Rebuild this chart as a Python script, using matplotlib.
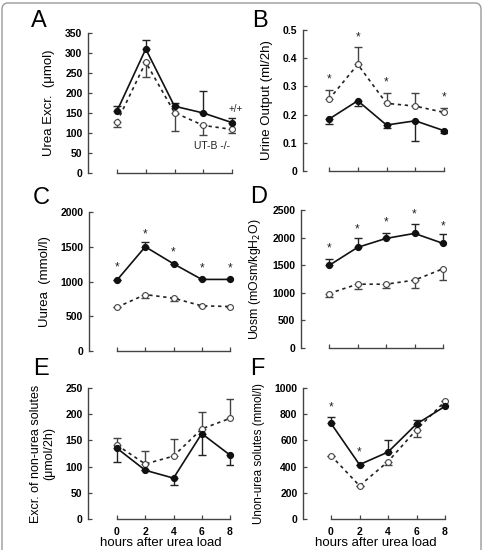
import matplotlib.pyplot as plt
from matplotlib.patches import FancyBboxPatch

plt.rcParams['font.family'] = ['Liberation Sans', 'DejaVu Sans']

hours = [0, 2, 4, 6, 8]

# A - urea excretion (umol)
a_wt = [155, 310, 167, 150, 126]
a_wt_err = [12, 23, 9, 56, 11]
a_ko = [128, 277, 151, 119, 109]
a_ko_err = [12, 37, 46, 24, 8]

# B - urine output (ml/2h)
b_wt = [0.184, 0.249, 0.163, 0.178, 0.143]
b_wt_err = [0.017, 0.019, 0.012, 0.071, 0.009]
b_ko = [0.254, 0.378, 0.240, 0.230, 0.208]
b_ko_err = [0.033, 0.063, 0.035, 0.045, 0.017]
b_star = [0.326, 0.473, 0.313, None, 0.261]

# C - urine urea (mmol/l)
c_wt = [1020, 1500, 1255, 1030, 1030]
c_wt_err = [0, 62, 0, 0, 0]
c_ko = [630, 812, 760, 650, 640]
c_ko_err = [0, 52, 34, 0, 0]
c_star = [1200, 1673, 1423, 1192, 1192]

# D - urine osmolality
d_wt = [1495, 1822, 1985, 2076, 1895]
d_wt_err = [121, 163, 103, 164, 163]
d_ko = [987, 1156, 1156, 1229, 1435]
d_ko_err = [61, 91, 66, 133, 206]
d_star = [1804, 2149, 2270, 2421, 2210]

# E - excretion of non-urea solutes
e_wt = [135, 93, 78, 163, 122]
e_wt_err = [27, 0, 14, 41, 19]
e_ko = [141, 105, 120, 172, 192]
e_ko_err = [13, 25, 33, 32, 37]

# F - non-urea solutes (mmol/l)
f_wt = [730, 415, 511, 725, 860]
f_wt_err = [46, 0, 95, 31, 0]
f_ko = [484, 254, 438, 682, 898]
f_ko_err = [0, 0, 23, 59, 0]
f_star = [852, 511, None, None, None]

W, H = 484, 550
fig = plt.figure(figsize=(W / 100, H / 100), dpi=100)

# rounded frame round the whole figure
frame = FancyBboxPatch((2 / W, -0.05), 479 / W, 1.05 - 3 / H,
                       boxstyle='round,pad=0,rounding_size=0.012',
                       transform=fig.transFigure, fill=False,
                       edgecolor='#9a9a9a', linewidth=1.0)
fig.patches.append(frame)


def make_ax(left, t0, t8, top, bottom, ymax, step, ylabel, letter, lx, ly,
            xlabels=False, ysize=9.5):
    scale = (t8 - t0) / 8.0
    xmin = -(t0 - left) / scale
    xmax = 8 + 3 / scale
    width = (xmax - xmin) * scale
    ax = fig.add_axes([left / W, 1 - bottom / H, width / W, (bottom - top) / H])
    ax.set_xlim(xmin, xmax)
    ax.set_ylim(0, ymax)
    for s in ['top', 'right']:
        ax.spines[s].set_visible(False)
    ax.spines['bottom'].set_bounds(0, 8)
    for s in ['left', 'bottom']:
        ax.spines[s].set_color('#444444')
        ax.spines[s].set_linewidth(1.0)
    ax.set_yticks([i * step for i in range(int(round(ymax / step)) + 1)])
    ax.set_xticks(hours)
    ax.tick_params(direction='in', length=3, width=0.9, color='#444444',
                   labelsize=7.5, pad=4)
    ax.tick_params(axis='x', pad=6)
    ax.yaxis.set_major_formatter(plt.FuncFormatter(
        lambda v, p: ('%g' % round(v, 2))))
    for t in ax.get_yticklabels() + ax.get_xticklabels():
        t.set_fontweight('bold')
    if not xlabels:
        ax.set_xticklabels([])
    else:
        ax.set_xlabel('hours after urea load', fontsize=9.5, labelpad=0)
    ax.set_ylabel(ylabel, fontsize=ysize, labelpad=7)
    fig.text(lx / W, 1 - ly / H, letter, fontsize=17, va='top', ha='left')
    return ax


def draw(ax, wt, wt_err, wt_up, ko, ko_err, ko_up, stars=None):
    ax.plot(hours, wt, '-', color='#111111', lw=1.2, marker='o', ms=4.2,
            mfc='#111111', mec='#111111', clip_on=False, zorder=4)
    ax.plot(hours, ko, color='#222222', lw=1.2, ls=(0, (2, 2.2)), marker='o',
            ms=4.2, mfc='white', mec='#444444', mew=0.8, clip_on=False, zorder=3)
    ew = [[0] * 5, wt_err] if wt_up else [wt_err, [0] * 5]
    ek = [[0] * 5, ko_err] if ko_up else [ko_err, [0] * 5]
    ax.errorbar(hours, wt, yerr=ew, fmt='none', ecolor='#222222',
                elinewidth=1.0, capsize=2.8, capthick=1.0, zorder=2)
    ax.errorbar(hours, ko, yerr=ek, fmt='none', ecolor='#444444',
                elinewidth=1.0, capsize=2.8, capthick=1.0, zorder=2)
    if stars:
        for x, s in zip(hours, stars):
            if s is not None:
                ax.text(x, s, '*', ha='center', va='center', fontsize=8.5,
                        color='#222222')


axA = make_ax(88, 117, 232, 33, 173, 350, 50, 'Urea Excr.  (\u03bcmol)', 'A', 31, 10)
draw(axA, a_wt, a_wt_err, True, a_ko, a_ko_err, False)
axA.text(8.25, 160, '+/+', ha='center', va='center', fontsize=7, color='#222222')
axA.text(6.6, 67, 'UT-B -/-', ha='center', va='center', fontsize=7.5, color='#222222')

axB = make_ax(303, 329, 444, 30, 171, 0.5, 0.1, 'Urine Output (ml/2h)', 'B', 252, 10)
draw(axB, b_wt, b_wt_err, False, b_ko, b_ko_err, True, b_star)

axC = make_ax(89, 117, 230, 212, 351, 2000, 500, 'Uurea  (mmol/l)', 'C', 33, 187)
draw(axC, c_wt, c_wt_err, True, c_ko, c_ko_err, False, c_star)

axD = make_ax(301, 329, 443, 210, 348, 2500, 500, 'Uosm (mOsm/kgH$_2$O)', 'D', 250, 186,
              ysize=8.8)
draw(axD, d_wt, d_wt_err, True, d_ko, d_ko_err, False, d_star)

axE = make_ax(88, 117, 230, 388, 519, 250, 50,
              'Excr. of non-urea solutes\n(\u03bcmol/2h)', 'E', 33, 358, xlabels=True,
              ysize=9.0)
draw(axE, e_wt, e_wt_err, False, e_ko, e_ko_err, True)

axF = make_ax(303, 331, 445, 388, 519, 1000, 200, 'Unon-urea solutes (mmol/l)',
              'F', 250, 358, xlabels=True, ysize=8.4)
draw(axF, f_wt, f_wt_err, True, f_ko, f_ko_err, False, f_star)

fig.savefig('out.png', dpi=100)
